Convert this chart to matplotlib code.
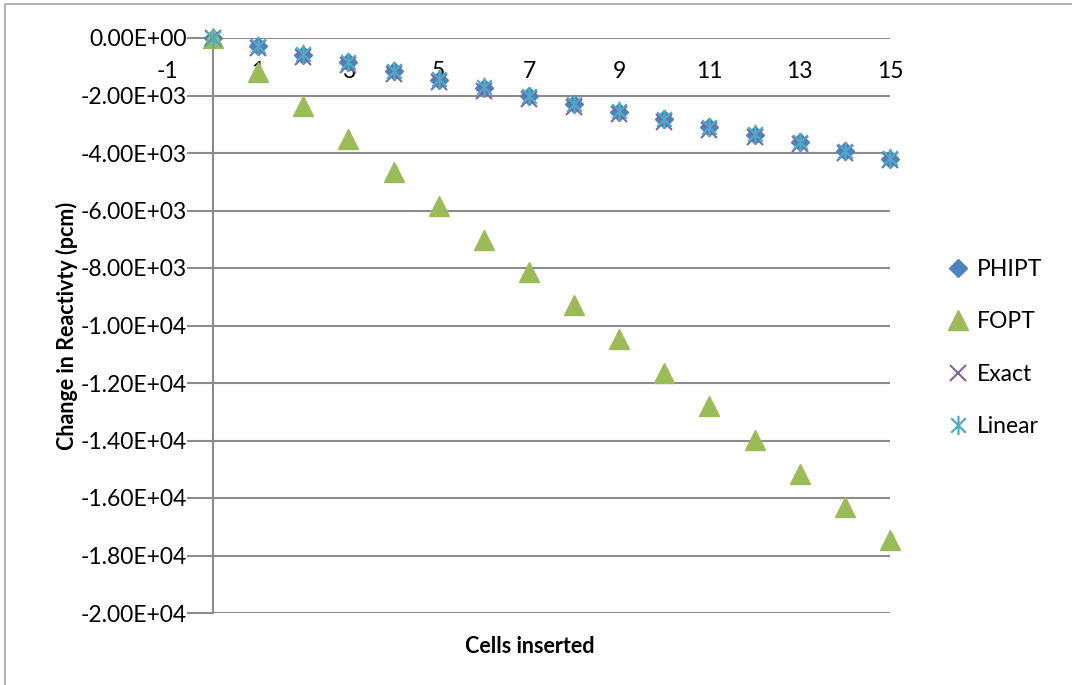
import matplotlib
matplotlib.use("Agg")
import matplotlib.pyplot as plt
from matplotlib.path import Path
from matplotlib.patches import Rectangle
from matplotlib.ticker import FuncFormatter
import matplotlib.transforms as mtransforms

plt.rcParams['font.family'] = ['Lato', 'DejaVu Sans']

cells = list(range(16))
phipt = [0, -290, -580, -850, -1160, -1450, -1740, -2030, -2300, -2560,
         -2830, -3110, -3370, -3620, -3940, -4210]
fopt = [0, -1180, -2380, -3510, -4660, -5840, -7030, -8140, -9290, -10470,
        -11650, -12800, -13980, -15150, -16320, -17470]
exact = [0, -340, -650, -930, -1250, -1540, -1830, -2120, -2390, -2650,
         -2920, -3200, -3450, -3680, -3990, -4250]
linear = [0, -280, -570, -840, -1150, -1430, -1720, -2010, -2280, -2540,
          -2810, -3090, -3350, -3610, -3920, -4190]
x_labels = [-1, 1, 3, 5, 7, 9, 11, 13, 15]
y_ticks = list(range(0, -20001, -2000))

W, H = 1072, 685
fig = plt.figure(figsize=(W / 100, H / 100), dpi=100)

# outer chart frame (runs off the right and bottom edges)
fig.patches.append(Rectangle((5 / W, -0.05), 1.1, 1 - 4 / H + 0.05,
                             transform=fig.transFigure, fill=False,
                             edgecolor='#a6a6a6', linewidth=1.2))

ax = fig.add_axes([213 / W, 1 - 613 / H, (890 - 213) / W, (613 - 38) / H])
ax.set_xlim(0, 15)
ax.set_ylim(-20000, 0)

grid = '#8c8c8c'
for s in ['top', 'right', 'bottom']:
    ax.spines[s].set_visible(False)
ax.spines['left'].set_color(grid)
ax.spines['left'].set_linewidth(1.5)

ax.set_yticks(y_ticks)
ax.yaxis.set_major_formatter(FuncFormatter(lambda v, p: f"{v:.2E}"))
ax.tick_params(axis='y', length=19, width=1.5, color=grid, pad=0,
               labelsize=16.5)
ax.set_xticks([])
ax.grid(axis='y', color=grid, linewidth=1.5)
ax.set_axisbelow(True)

# category labels sit just under the zero line
tr = mtransforms.blended_transform_factory(ax.transData, ax.transAxes)
for v in x_labels:
    ax.text(v, 1 - 34 / 575, str(v), transform=tr, ha='center', va='center',
            fontsize=16.5, clip_on=False)

star = Path([(0, -1), (0, 1), (-0.75, -0.75), (0.75, 0.75),
             (-0.75, 0.75), (0.75, -0.75)],
            [Path.MOVETO, Path.LINETO, Path.MOVETO, Path.LINETO,
             Path.MOVETO, Path.LINETO])

ax.plot(cells, phipt, 'D', color='#4f81bd', markersize=9.5, clip_on=False,
        label='PHIPT', zorder=3)
ax.plot(cells, fopt, '^', color='#9bbb59', markersize=15, clip_on=False,
        label='FOPT', zorder=3)
ax.plot(cells, exact, 'x', color='#8064a2', markersize=12, mew=1.5,
        clip_on=False, label='Exact', zorder=4)
ax.plot(cells, linear, marker=star, linestyle='none', color='#4bacc6',
        markersize=14, mew=1.6, clip_on=False, label='Linear', zorder=5)

ax.set_xlabel('Cells inserted', fontsize=15.5, fontweight='bold')
ax.xaxis.set_label_coords((530 - 213) / 677, -0.04)
ax.set_ylabel('Change in Reactivty (pcm)', fontsize=15.5, fontweight='bold')
ax.yaxis.set_label_coords(-0.2, 0.5)

ax.legend(loc='center left', bbox_to_anchor=(947 / W, 1 - 348 / H),
          bbox_transform=fig.transFigure, frameon=False, fontsize=16.5,
          handlelength=1, handletextpad=0.3, labelspacing=1.38, borderpad=0,
          borderaxespad=0)

fig.savefig('out.png', dpi=100)
